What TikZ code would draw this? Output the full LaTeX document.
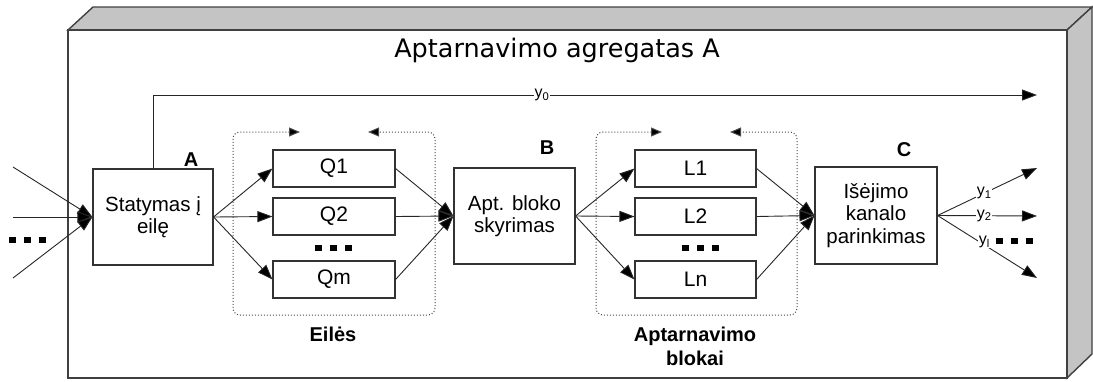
\documentclass[tikz,border=0pt]{standalone}
\usepackage{fontspec}
\setmainfont{Liberation Sans}
\newfontfamily\titlefont{DejaVu Sans}
\usetikzlibrary{arrows.meta}

\definecolor{facegray}{HTML}{C4C4C4}
\definecolor{edgegray}{HTML}{404040}

\tikzset{
  blk/.style={draw=black!80, line width=1.1pt, fill=white, inner sep=0pt,
    align=center, font=\fontsize{20.5}{22.5}\selectfont},
  qbox/.style={draw=black!80, line width=1.1pt, minimum width=122pt,
    minimum height=37pt, inner sep=0pt, font=\fontsize{21}{22}\selectfont},
  flow/.style={draw=black!85, line width=0.9pt,
    -{Triangle[length=15pt,width=11pt,fill=black]}},
  grp/.style={draw=black!70, line width=1pt, dotted, rounded corners=7pt,
    {Triangle[length=11pt,width=9pt,fill=black]}-{Triangle[length=11pt,width=9pt,fill=black]}},
  tag/.style={font=\bfseries\fontsize{20}{22}\selectfont},
  sig/.style={fill=white, inner sep=0.5pt, font=\fontsize{16}{16}\selectfont},
}

\begin{document}
\begin{tikzpicture}[x=1pt, y=-1pt]
\useasboundingbox (0,0) rectangle (1093,381);

% aggregate body drawn as a box in perspective
\filldraw[fill=facegray, draw=edgegray, line width=1.4pt]
  (68,30) -- (93,7) -- (1092,7) -- (1067,30) -- cycle;
\filldraw[fill=facegray, draw=edgegray, line width=1.4pt]
  (1067,30) -- (1092,7) -- (1092,354) -- (1067,378) -- cycle;
\draw[edgegray, line width=1.4pt] (68,30) rectangle (1067,378);

\node[anchor=base, font=\titlefont\fontsize{25.5}{28}\selectfont] (title) at (557,57)
  {Aptarnavimo agregatas A};

% main blocks
\node[blk, minimum width=120pt, minimum height=96pt] (stat) at (153,217)
  {Statymas į\\eilę};
\node[blk, minimum width=121pt, minimum height=96pt] (apt) at (514.5,216)
  {Apt. bloko\\skyrimas};
\node[blk, minimum width=122pt, minimum height=97pt] (out) at (876,215.5)
  {Išėjimo\\kanalo\\parinkimas};

\node[tag] (tagA) at (191,160) {A};
\node[tag] (tagB) at (547,148) {B};
\node[tag] (tagC) at (904,150) {C};

% queues
\node[qbox] (q1) at (334,168.5) {Q1};
\node[qbox] (q2) at (334,216.5) {Q2};
\node[qbox] (qm) at (334,279.5) {Qm};

% service blocks
\node[qbox, minimum width=121pt] (l1) at (695.5,168.5) {L1};
\node[qbox, minimum width=121pt] (l2) at (695.5,216.5) {L2};
\node[qbox, minimum width=121pt] (ln) at (695.5,279.5) {Ln};

% dotted group frames
\draw[grp] (300,132) -- (233,132) -- (233,315) -- (435,315) -- (435,132) -- (368,132);
\draw[grp] (662,132) -- (596,132) -- (596,315) -- (797,315) -- (797,132) -- (730,132);

\node[tag] (eil) at (333,334) {Eilės};
\node[tag, align=center, font=\bfseries\fontsize{20}{24}\selectfont] (blok) at (695,346)
  {Aptarnavimo\\blokai};

% inputs
\coordinate (in1) at (13,167);
\coordinate (in2) at (13,217);
\coordinate (in3) at (13,278);
\foreach \c in {in1,in2,in3} \draw[flow] (\c) -- (stat.west);

% distribution to queues and service blocks
\foreach \q in {q1,q2,qm} {
  \draw[flow] (stat.east) -- (\q.west);
  \draw[flow] (\q.east) -- (apt.west);
}
\foreach \l in {l1,l2,ln} {
  \draw[flow] (apt.east) -- (\l.west);
  \draw[flow] (\l.east) -- (out.west);
}

% bypass output y0
\coordinate (y0end) at (1037,95);
\draw[flow] (stat.north) |- node[pos=0.72, sig] {y\textsubscript{0}} (y0end);

% outputs
\coordinate (o1) at (1037,168);
\coordinate (o2) at (1037,216);
\coordinate (o3) at (1037,278);
\draw[flow] (out.east) -- node[pos=0.47, sig] {y\textsubscript{1}} (o1);
\draw[flow] (out.east) -- node[pos=0.47, sig] {y\textsubscript{2}} (o2);
\draw[flow] (out.east) -- node[pos=0.47, sig, yshift=3pt] {y\textsubscript{l}} (o3);

% ellipsis marks
\foreach \x/\y in {9/237, 315/245, 682/245, 996/238}
  \foreach \d in {0,1,2}
    \fill ({\x+\d*15}, \y) rectangle ++(6.5,6);
\end{tikzpicture}
\end{document}
